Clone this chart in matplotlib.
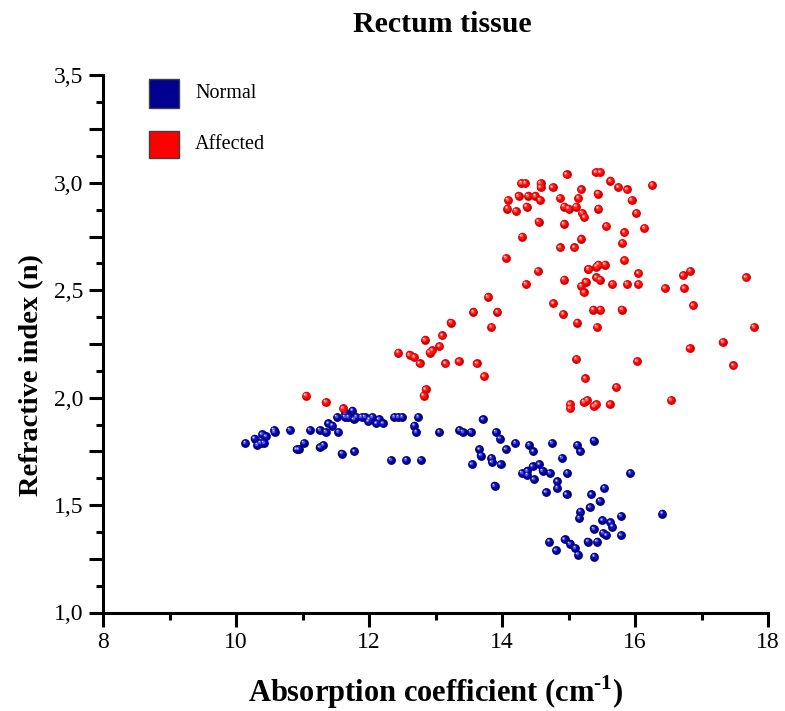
import matplotlib
matplotlib.use("Agg")
import matplotlib.pyplot as plt
import matplotlib.transforms as mtransforms
from matplotlib.patches import Rectangle
from matplotlib.ticker import MultipleLocator, FuncFormatter

# Normal rectum tissue: absorption coefficient (cm^-1) and refractive index
normal_mu = [10.14, 10.28, 10.32, 10.39, 10.45, 10.42, 10.37, 10.57, 10.58, 10.81,
             10.91, 10.94, 11.02, 11.11, 11.26, 11.26, 11.31, 11.35, 11.39, 11.45,
             11.54, 11.52, 11.64, 11.64, 11.69, 11.75, 11.77, 11.81, 11.89, 11.94,
             11.99, 12.01, 12.05, 12.11, 12.15, 12.21, 11.59, 11.78, 12.33, 12.56,
             12.78, 12.38, 12.44, 12.50, 12.74, 12.68, 12.71, 13.06, 13.36, 13.41,
             13.53, 13.71, 13.91, 13.97, 13.66, 13.68, 13.55, 13.84, 13.85, 13.98,
             13.89, 14.06, 14.20, 14.41, 14.47, 14.75, 15.13, 15.18, 15.38, 14.90,
             14.56, 14.46, 14.38, 14.30, 14.38, 14.48, 14.61, 14.72, 14.98, 14.83,
             14.83, 14.66, 14.97, 15.34, 15.54, 15.47, 15.32, 15.18, 15.16, 15.51,
             15.63, 15.66, 15.79, 15.38, 15.52, 15.57, 15.79, 15.93, 16.41, 14.71,
             14.81, 14.94, 15.02, 15.10, 15.14, 15.29, 15.43, 15.39]
normal_n = [1.79, 1.81, 1.78, 1.83, 1.82, 1.79, 1.79, 1.85, 1.84, 1.85,
            1.76, 1.76, 1.79, 1.85, 1.85, 1.77, 1.78, 1.84, 1.88, 1.87,
            1.84, 1.91, 1.93, 1.91, 1.91, 1.94, 1.90, 1.91, 1.91, 1.91,
            1.89, 1.90, 1.91, 1.88, 1.90, 1.88, 1.74, 1.75, 1.71, 1.71,
            1.71, 1.91, 1.91, 1.91, 1.91, 1.87, 1.84, 1.84, 1.85, 1.84,
            1.84, 1.90, 1.84, 1.81, 1.76, 1.73, 1.69, 1.72, 1.70, 1.69,
            1.59, 1.76, 1.79, 1.78, 1.75, 1.79, 1.78, 1.75, 1.80, 1.72,
            1.69, 1.68, 1.66, 1.65, 1.64, 1.62, 1.66, 1.65, 1.65, 1.61,
            1.58, 1.56, 1.55, 1.55, 1.58, 1.52, 1.49, 1.47, 1.44, 1.43,
            1.42, 1.40, 1.45, 1.39, 1.37, 1.36, 1.36, 1.65, 1.46, 1.33,
            1.29, 1.34, 1.32, 1.30, 1.27, 1.33, 1.33, 1.26]

# Affected rectum tissue
affected_mu = [11.05, 11.35, 11.61, 12.44, 12.61, 12.68, 12.76, 12.84, 12.91, 12.95,
               13.06, 13.10, 13.23, 13.15, 13.35, 13.62, 13.73, 13.57, 13.79, 13.93,
               13.84, 12.85, 12.82, 14.36, 14.54, 14.93, 14.77, 14.92, 15.13, 15.19,
               15.26, 15.23, 15.42, 15.47, 15.30, 15.66, 15.88, 16.05, 16.05, 15.37,
               15.48, 15.80, 15.43, 16.45, 16.74, 16.72, 16.83, 16.87, 17.67, 17.79,
               17.32, 16.82, 17.48, 15.12, 16.03, 15.25, 15.72, 16.54, 15.02, 15.02,
               15.23, 15.28, 15.38, 15.42, 15.62, 14.06, 14.30, 14.87, 15.09, 15.19,
               14.93, 14.55, 14.08, 14.09, 14.21, 14.25, 14.37, 14.39, 14.50, 14.57,
               14.58, 14.58, 14.29, 14.35, 14.76, 14.97, 14.87, 14.93, 15.00, 15.11,
               15.15, 15.19, 15.20, 15.24, 15.41, 15.48, 15.44, 15.45, 15.63, 15.75,
               15.88, 15.95, 16.02, 16.26, 15.57, 15.84, 16.14, 15.81, 15.84, 15.30,
               15.42, 15.45, 15.55]
affected_n = [2.01, 1.98, 1.95, 2.21, 2.20, 2.19, 2.16, 2.27, 2.21, 2.22,
              2.24, 2.29, 2.35, 2.16, 2.17, 2.16, 2.10, 2.40, 2.47, 2.40,
              2.33, 2.04, 2.01, 2.53, 2.59, 2.55, 2.44, 2.39, 2.35, 2.52,
              2.54, 2.49, 2.56, 2.55, 2.60, 2.53, 2.53, 2.53, 2.58, 2.41,
              2.41, 2.41, 2.33, 2.51, 2.51, 2.57, 2.59, 2.43, 2.56, 2.33,
              2.26, 2.23, 2.15, 2.18, 2.17, 2.09, 2.05, 1.99, 1.97, 1.95,
              1.98, 1.99, 1.96, 1.97, 1.97, 2.65, 2.75, 2.70, 2.70, 2.74,
              2.81, 2.82, 2.88, 2.92, 2.87, 2.94, 2.89, 2.94, 2.94, 2.92,
              3.00, 2.98, 3.00, 3.00, 2.98, 3.04, 2.93, 2.89, 2.88, 2.89,
              2.93, 2.97, 2.86, 2.84, 3.05, 3.05, 2.95, 2.88, 3.01, 2.98,
              2.97, 2.92, 2.86, 2.99, 2.80, 2.77, 2.79, 2.72, 2.64, 2.60,
              2.61, 2.62, 2.62]

series = [
    ("Normal", normal_mu, normal_n,
     ["#00006e", "#000098", "#1212b4", "#5a5adc", "#d0d0ff"], "#000090"),
    ("Affected", affected_mu, affected_n,
     ["#c00000", "#f00000", "#ff1a1a", "#ff6a6a", "#ffe0e0"], "#ff0000"),
]

plt.rcParams["font.family"] = ["Liberation Serif", "DejaVu Serif"]
plt.rcParams["mathtext.fontset"] = "custom"
plt.rcParams["mathtext.rm"] = "Liberation Serif"
plt.rcParams["mathtext.bf"] = "Liberation Serif:bold"

W, H = 785, 711
fig = plt.figure(figsize=(W / 100, H / 100), dpi=100)
ax = fig.add_axes([103 / W, 1 - 612.5 / H, 665 / W, 537 / H])


def shifted(dx, dy):
    return mtransforms.offset_copy(ax.transData, fig=fig, x=dx, y=dy, units="dots")


# shaded "ball" markers: dark rim, body, and a highlight toward the upper left
layers = [(8.8, 0.0, 0.0), (7.6, -0.3, 0.3), (5.4, -0.8, 0.8), (3.2, -1.2, 1.2), (1.5, -1.6, 1.6)]
for name, xs, ys, shades, _ in series:
    for (diam, dx, dy), col in zip(layers, shades):
        s = (diam * 72 / 100) ** 2
        ax.scatter(xs, ys, s=s, c=col, linewidths=0, transform=shifted(dx, dy), zorder=3)

ax.set_xlim(8, 18)
ax.set_ylim(1.0, 3.5)

for side in ("top", "right"):
    ax.spines[side].set_visible(False)
for side in ("left", "bottom"):
    ax.spines[side].set_linewidth(2.2)

ax.xaxis.set_major_locator(MultipleLocator(2))
ax.xaxis.set_minor_locator(MultipleLocator(1))
ax.yaxis.set_major_locator(MultipleLocator(0.25))
ax.yaxis.set_minor_locator(MultipleLocator(0.125))


def ylab(v, pos):
    if abs(v * 2 - round(v * 2)) < 1e-6:
        return f"{v:.1f}".replace(".", ",")
    return ""


ax.yaxis.set_major_formatter(FuncFormatter(ylab))
ax.xaxis.set_major_formatter(FuncFormatter(lambda v, p: f"{v:.0f}"))
ax.tick_params(which="major", direction="out", length=10, width=2.2, labelsize=17, pad=4)
ax.tick_params(which="minor", direction="out", length=5, width=2.2)

ax.set_xlabel("Absorption coefficient (cm$^{\\mathbf{\u20101}}$)", fontsize=22, fontweight="bold")
ax.xaxis.set_label_coords(0.5, -0.113)
ax.set_ylabel("Refractive index (n)", fontsize=20.5, fontweight="bold")
ax.yaxis.set_label_coords(-0.088, 0.442)
fig.text(442 / W, 1 - 25 / H, "Rectum tissue", ha="center", va="center",
         fontsize=21.5, fontweight="bold")

# key: colour swatches with their labels
swatches = [(79, 108), (131, 158)]
for (name, _, _, _, fc), (top, bottom) in zip(series, swatches):
    fig.patches.append(Rectangle((149 / W, 1 - bottom / H), 30 / W, (bottom - top) / H,
                                 transform=fig.transFigure, facecolor=fc,
                                 edgecolor="#404040", linewidth=1.0))
    fig.text(195 / W, 1 - (top + bottom) / 2 / H, name, ha="left", va="center", fontsize=14.5)

fig.savefig("out.png", dpi=100)
